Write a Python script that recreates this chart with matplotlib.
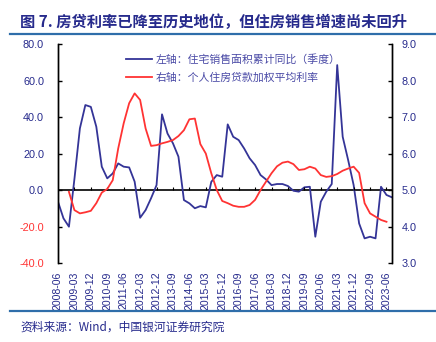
import numpy as np
import matplotlib
matplotlib.use('Agg')
import matplotlib.pyplot as plt
from matplotlib.lines import Line2D

plt.rcParams['font.family'] = ['Noto Sans CJK SC', 'DejaVu Sans']
plt.rcParams['axes.unicode_minus'] = False

# 季度日期 2008-06 ~ 2023-09
quarters = [f"{y}-{m:02d}" for y in range(2008, 2024) for m in (3, 6, 9, 12)]
quarters = quarters[1:quarters.index("2023-09") + 1]

# 左轴：住宅销售面积累计同比（%）
sales_yoy = [-6.4, -15.5, -20.1, 6.0, 33.8, 46.6, 45.6, 34.7, 12.8, 6.4,
             9.1, 14.6, 12.8, 12.4, 4.6, -15.2, -11.0, -4.5, 2.7, 41.5,
             31.0, 25.6, 18.3, -5.5, -7.3, -10.0, -8.8, -9.5, 4.5, 8.2,
             7.3, 36.0, 29.2, 27.4, 22.8, 17.4, 13.7, 8.2, 5.8, 2.7,
             3.3, 3.3, 2.2, -0.4, -0.9, 1.5, 1.8, -25.6, -6.4, -0.9,
             3.3, 68.5, 29.2, 16.4, 2.7, -18.3, -26.5, -25.6, -26.5, 1.8,
             -2.7, -4.0]

# 右轴：个人住房贷款加权平均利率（%），自 2008-12 起
rate_start = "2008-12"
mortgage_rate = [4.95, 4.45, 4.36, 4.39, 4.43, 4.64, 4.93, 5.03, 5.27, 6.14,
                 6.83, 7.38, 7.65, 7.47, 6.69, 6.21, 6.23, 6.28, 6.32, 6.37,
                 6.48, 6.64, 6.94, 6.96, 6.26, 6.00, 5.46, 5.00, 4.70, 4.64,
                 4.57, 4.54, 4.54, 4.59, 4.73, 5.00, 5.23, 5.46, 5.65, 5.75,
                 5.78, 5.71, 5.55, 5.57, 5.64, 5.59, 5.41, 5.36, 5.38, 5.44,
                 5.53, 5.59, 5.64, 5.47, 4.64, 4.36, 4.27, 4.18, 4.13]

left_ticks = [-40, -20, 0, 20, 40, 60, 80]
right_ticks = [3, 4, 5, 6, 7, 8, 9]

navy = '#262a8c'
blue = '#343497'
red = '#ff3333'

x_sales = np.arange(len(sales_yoy))
i0 = quarters.index(rate_start)
x_rate = np.arange(i0, i0 + len(mortgage_rate))

fig = plt.figure(figsize=(4.36, 3.42), dpi=100)
ax = fig.add_axes([0.133, 0.231, 0.766, 0.640])
ax2 = ax.twinx()

l1, = ax.plot(x_sales, sales_yoy, color=blue, lw=1.3,
              label='左轴：住宅销售面积累计同比（季度）')
l2, = ax2.plot(x_rate, mortgage_rate, color=red, lw=1.3,
               label='右轴：个人住房贷款加权平均利率')

ax.set_xlim(0, len(quarters) - 1)
ax.set_ylim(-40, 80)
ax2.set_ylim(3, 9)

# 零轴及其刻度
ax.axhline(0, color='black', lw=1.2, zorder=1)
ax.vlines(np.arange(3, len(quarters) - 1, 3), 0, 1.7, color='black', lw=0.8)

for a in (ax, ax2):
    a.spines['top'].set_visible(False)
    a.spines['bottom'].set_visible(False)
    a.spines['left'].set_linewidth(1.0)
    a.spines['right'].set_linewidth(1.0)

ax.set_xticks(np.arange(0, len(quarters), 3))
ax.set_xticklabels(quarters[::3], rotation=90, fontsize=7.6, color=navy,
                   fontfamily='Liberation Sans')
ax.tick_params(axis='x', length=0, pad=6)

ax.set_yticks(left_ticks)
ax.set_yticklabels([f"{v:.1f}" for v in left_ticks], fontsize=7.8,
                   fontfamily='Liberation Sans')
for t, v in zip(ax.get_yticklabels(), left_ticks):
    t.set_color(red if v < 0 else navy)
ax.tick_params(axis='y', direction='in', length=3, width=1.0, pad=10)

ax2.set_yticks(right_ticks)
ax2.set_yticklabels([f"{v:.1f}" for v in right_ticks], fontsize=7.8,
                    color=navy, fontfamily='Liberation Sans')
ax2.tick_params(axis='y', direction='in', length=3, width=1.0, pad=7)

leg = ax.legend(handles=[l1, l2], loc='upper left',
                bbox_to_anchor=(0.175, 1.0), frameon=False, fontsize=7.8,
                handlelength=2.4, handletextpad=0.3, labelspacing=0.75)
for t in leg.get_texts():
    t.set_color('#4a4aa6')

fig.text(0.046, 0.936, '图 7. 房贷利率已降至历史地位，但住房销售增速尚未回升',
         fontsize=11, fontweight='bold', color=navy, va='center')
fig.add_artist(Line2D([0.023, 1.0], [0.900, 0.900], transform=fig.transFigure,
                      color='#2f6eaa', lw=1.6))
fig.add_artist(Line2D([0.023, 1.0], [0.090, 0.090], transform=fig.transFigure,
                      color='#2f6eaa', lw=1.6))
fig.text(0.046, 0.042, '资料来源：Wind，中国银河证券研究院', fontsize=8.5,
         color=navy, va='center')

fig.savefig('out.png', dpi=100)
